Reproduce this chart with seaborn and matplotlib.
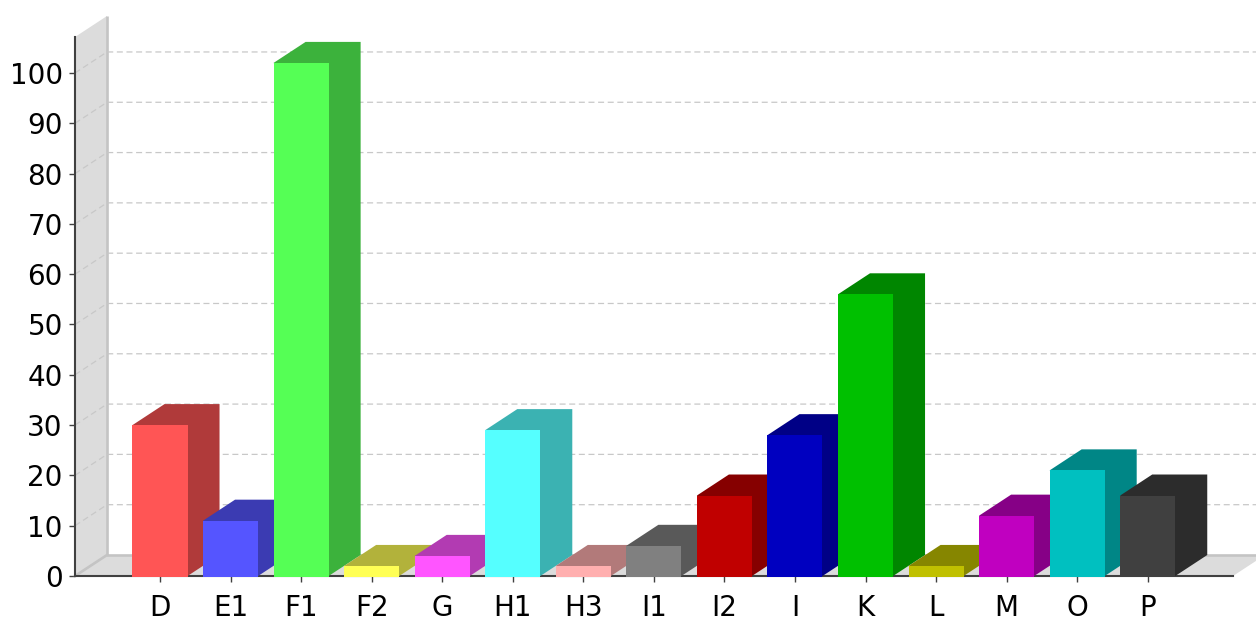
import matplotlib
matplotlib.use('Agg')
import matplotlib.pyplot as plt
import pandas as pd
import seaborn as sns
from matplotlib.patches import Polygon

categories = ['D', 'E1', 'F1', 'F2', 'G', 'H1', 'H3', 'I1', 'I2', 'I', 'K', 'L', 'M', 'O', 'P']
counts = [30, 11, 102, 2, 4, 29, 2, 6, 16, 28, 56, 2, 12, 21, 16]
front_colors = ['#ff5555', '#5555ff', '#55ff55', '#ffff55', '#ff55ff', '#55ffff', '#ffafaf', '#808080',
                '#c00000', '#0000c0', '#00c000', '#c0c000', '#c000c0', '#00c0c0', '#404040']
side_colors = ['#b03a3a', '#3b3bb2', '#3cb23c', '#b2b23b', '#b23bb2', '#3bb2b2', '#b27a7a', '#595959',
               '#860000', '#000086', '#008600', '#868600', '#860086', '#008686', '#2c2c2c']
y_ticks = [0, 10, 20, 30, 40, 50, 60, 70, 80, 90, 100]

# size of the 3d effect, in data units (about 32px across, 21px up)
DEPTH_X = 0.4536
DEPTH_Y = 4.175

sns.set_theme(style='ticks')
plt.rcParams['font.family'] = ['DejaVu Sans']

fig = plt.figure(figsize=(12.56, 6.18), dpi=100)
ax = fig.add_axes([75 / 1256, 42 / 618, 1158 / 1256, 539 / 618])

df = pd.DataFrame({'category': categories, 'count': counts})
sns.barplot(data=df, x='category', y='count', hue='category', palette=front_colors, order=categories,
            hue_order=categories, saturation=1, width=0.78, dodge=False, legend=False, linewidth=0, ax=ax)
bars = sorted(ax.patches, key=lambda p: p.get_x())

x0, x1 = -1.205, 15.2086
y1 = 107.15
ax.set_xlim(x0, x1)
ax.set_ylim(0, y1)

wall = '#dcdcdc'
wall_edge = '#c4c4c4'
grid = '#c8c8c8'

# left wall and floor
ax.add_patch(Polygon([(x0, 0), (x0 + DEPTH_X, DEPTH_Y), (x0 + DEPTH_X, y1 + DEPTH_Y), (x0, y1)],
                     facecolor=wall, edgecolor='none', clip_on=False, zorder=0.5))
ax.add_patch(Polygon([(x0, 0), (x1, 0), (x1 + DEPTH_X, DEPTH_Y), (x0 + DEPTH_X, DEPTH_Y)],
                     facecolor=wall, edgecolor='none', clip_on=False, zorder=0.5))
ax.plot([x0 + DEPTH_X, x0 + DEPTH_X], [DEPTH_Y, y1 + DEPTH_Y], color=wall_edge, lw=1.9, clip_on=False, zorder=0.7,
        solid_capstyle='butt')
ax.plot([x0 + DEPTH_X, x1 + DEPTH_X], [DEPTH_Y, DEPTH_Y], color=wall_edge, lw=1.9, clip_on=False, zorder=0.7)
ax.plot([x0, x0 + DEPTH_X], [0, DEPTH_Y], color=wall_edge, lw=1.9, clip_on=False, zorder=0.7)

# gridlines run along the wall then across the back
for v in y_ticks[1:]:
    ax.plot([x0, x0 + DEPTH_X, x1 + DEPTH_X], [v, v + DEPTH_Y, v + DEPTH_Y], color=grid, lw=0.9,
            linestyle=(0, (4.8, 2.9)), clip_on=False, zorder=0.8)

# side and top faces, each next bar covers the one before it
# the polygon tucks a little under the front face so no white seam shows
for i, bar in enumerate(bars):
    left = bar.get_x()
    right = left + bar.get_width()
    top = bar.get_height()
    side = side_colors[i]
    ax.add_patch(Polygon([(left, top), (left + DEPTH_X, top + DEPTH_Y), (right + DEPTH_X, top + DEPTH_Y),
                          (right + DEPTH_X, DEPTH_Y), (right, 0), (right - 0.03, 0),
                          (right - 0.03, top - 0.5), (left + 0.03, top - 0.5)],
                         facecolor=side, edgecolor='none', clip_on=False, zorder=3 + 2 * i))
    # front face runs just past the axis line
    bar.set_y(-0.2)
    bar.set_height(top + 0.2)
    bar.set_zorder(4 + 2 * i)
    bar.set_clip_on(False)

ax.set_xlabel('')
ax.set_ylabel('')
ax.set_yticks(y_ticks)
ax.tick_params(axis='both', labelsize=20, length=4.3, width=1, color='#404040', labelcolor='black')
ax.tick_params(axis='x', pad=8.5)
ax.tick_params(axis='y', pad=4.5)
sns.despine(ax=ax)
for name in ['left', 'bottom']:
    ax.spines[name].set_color('#404040')
    ax.spines[name].set_linewidth(1.5)
    ax.spines[name].set_zorder(1)

fig.savefig('out.png', dpi=100)
